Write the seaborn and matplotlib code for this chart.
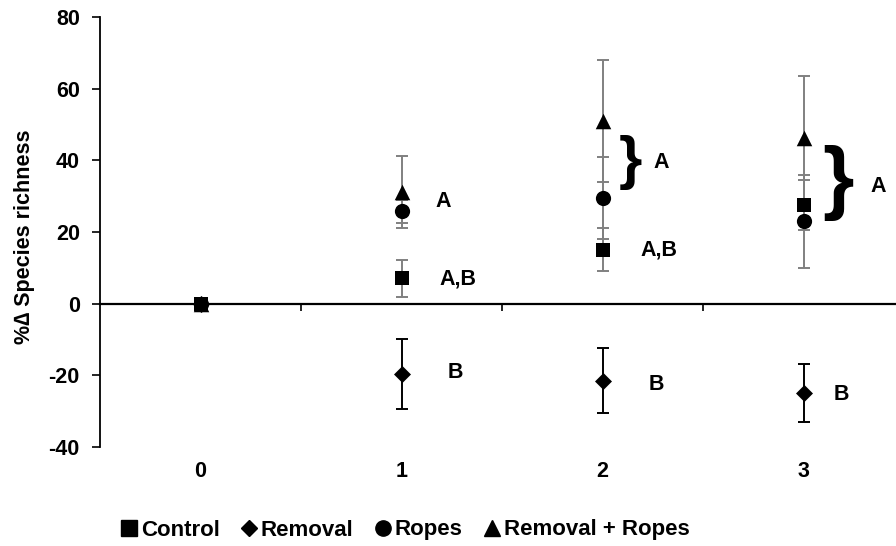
import matplotlib
matplotlib.use("Agg")
import matplotlib.pyplot as plt
import matplotlib.transforms as mtransforms
from matplotlib.lines import Line2D
import numpy as np
import pandas as pd
import seaborn as sns

# ---- data ----
sampling_times = ["0", "1", "2", "3"]
treatments = ["Control", "Removal", "Ropes", "Removal + Ropes"]
control_mean = [0, 7.1, 15.1, 27.6]
control_se = [0, 5.2, 6.0, 7.0]
removal_mean = [0, -19.6, -21.5, -24.9]
removal_se = [0, 9.8, 9.0, 8.2]
ropes_mean = [0, 25.8, 29.5, 23.0]
ropes_se = [0, 3.2, 11.4, 13.0]
remrop_mean = [0, 31.2, 50.9, 46.2]
remrop_se = [0, 10.0, 17.0, 17.4]
y_ticks = [-40, -20, 0, 20, 40, 60, 80]

# significance letters: (time index, anchor value, label)
letters = [
    (1, 28.5, "A"), (1, 7.0, "A,B"), (1, -19.3, "B"),
    (2, 39.4, "A"), (2, 15.1, "A,B"), (2, -22.6, "B"),
    (3, 32.7, "A"), (3, -25.4, "B"),
]
braces = [(2, 39.4), (3, 33.8)]

means = [control_mean, removal_mean, ropes_mean, remrop_mean]
ses = [control_se, removal_se, ropes_se, remrop_se]
rows = []
for t, m, s in zip(treatments, means, ses):
    for i, (mv, sv) in enumerate(zip(m, s)):
        rows.append({"treatment": t, "x": i, "y": mv, "se": sv})
df = pd.DataFrame(rows)

sns.set_style("white")
plt.rcParams["font.family"] = ["Liberation Sans", "DejaVu Sans"]
plt.rcParams["font.weight"] = "bold"
for k in ["text.color", "axes.labelcolor", "xtick.color", "ytick.color", "axes.edgecolor"]:
    plt.rcParams[k] = "black"

FS = 15.5

fig = plt.figure(figsize=(8.96, 5.46), dpi=100)
ax = fig.add_axes([100 / 896, 1 - 447 / 546, 796 / 896, 430 / 546])

grey = "#808080"
ecolors = {"Control": grey, "Removal": "black", "Ropes": grey, "Removal + Ropes": grey}
markers = {"Control": "s", "Removal": "D", "Ropes": "o", "Removal + Ropes": "^"}
sizes = {"Control": 115, "Removal": 75, "Ropes": 120, "Removal + Ropes": 125}
zorders = {"Control": 6, "Removal": 4, "Ropes": 4, "Removal + Ropes": 5}

for t in treatments:
    sub = df[df.treatment == t]
    ax.errorbar(sub.x, sub.y, yerr=sub.se, fmt="none", ecolor=ecolors[t],
                elinewidth=1.4, capsize=4.6, capthick=1.4, zorder=2)

for t in ["Removal", "Ropes", "Removal + Ropes", "Control"]:
    sub = df[df.treatment == t]
    sns.scatterplot(data=sub, x="x", y="y", marker=markers[t], s=sizes[t],
                    color="black", edgecolor="black", linewidth=0, ax=ax,
                    zorder=zorders[t], legend=False)

ax.set_xlim(-0.5, (896 - 100) / 201 - 0.5)
ax.set_ylim(-40, 80)
ax.set_yticks(y_ticks)
ax.set_yticklabels([str(v) for v in y_ticks], fontsize=FS, fontweight="bold")
ax.tick_params(axis="y", left=True, direction="out", length=6, width=1.2, pad=8.5,
               color="black", labelcolor="black")

# category axis crossing at zero with tick marks between categories
ax.spines["bottom"].set_position(("data", 0))
ax.spines["bottom"].set_linewidth(1.6)
ax.spines["left"].set_linewidth(1.3)
ax.spines["top"].set_visible(False)
ax.spines["right"].set_visible(False)
for sp in ax.spines.values():
    sp.set_color("black")
ax.set_xticks(np.arange(len(sampling_times) - 1) + 0.5)
ax.set_xticklabels([])
ax.tick_params(axis="x", bottom=True, direction="out", length=5, width=1.2, color="black")
trans = mtransforms.blended_transform_factory(ax.transData, ax.transAxes)
for i, lab in enumerate(sampling_times):
    ax.text(i, -0.056, lab, transform=trans, ha="center", va="center",
            fontsize=FS, fontweight="bold", color="black")

ax.set_xlabel("")
ax.set_ylabel("%\u2206 Species richness", fontsize=FS, fontweight="bold", color="black")
ax.yaxis.set_label_coords(-0.082, 0.49)

# letters
offsets = {"A": 0.21, "A,B": 0.28, "B": 0.27}
for i, yv, lab in letters:
    dx = offsets[lab]
    if i == 2 and lab == "A":
        dx = 0.29
    if i == 3 and lab == "A":
        dx = 0.37
    if i == 3 and lab == "B":
        dx = 0.19
    ax.text(i + dx, yv, lab, ha="center", va="center", fontsize=FS,
            fontweight="bold", color="black")

ax.text(braces[0][0] + 0.137, braces[0][1], "}", ha="center", va="center",
        fontsize=43, fontweight="bold", color="black")
ax.text(braces[1][0] + 0.17, braces[1][1], "}", ha="center", va="center",
        fontsize=58, fontweight="bold", color="black")

# legend
handles = [Line2D([], [], linestyle="none", marker=markers[t], color="black",
                  markersize={"Control": 11, "Removal": 8, "Ropes": 11,
                              "Removal + Ropes": 11}[t]) for t in treatments]
leg = fig.legend(handles, treatments, loc="center", bbox_to_anchor=(405 / 896, 1 - 530 / 546),
                 ncol=4, frameon=False, prop={"size": 16, "weight": "bold"},
                 handlelength=0.75, handletextpad=0.15, columnspacing=0.95, borderpad=0)
for txt in leg.get_texts():
    txt.set_color("black")

fig.savefig("out.png", dpi=100)
